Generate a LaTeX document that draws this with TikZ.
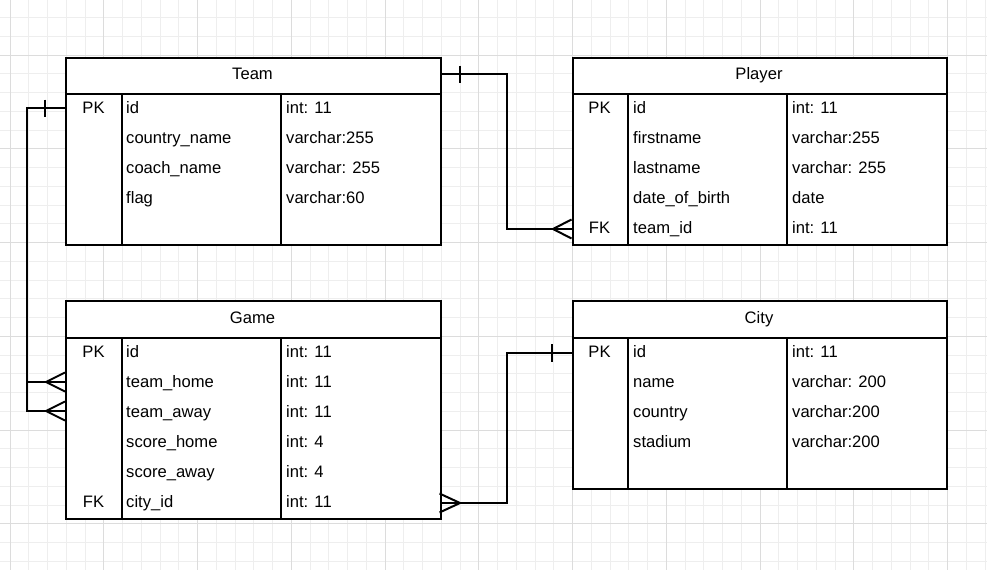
\documentclass[tikz,border=0pt]{standalone}
\usepackage{fontspec}
\setmainfont{Liberation Sans}
\definecolor{gridminor}{HTML}{EEEEEE}
\definecolor{gridmajor}{HTML}{DCDCDC}
\newcommand{\tabfont}{\fontsize{16.6}{19}\selectfont}
\tikzset{
  tbl/.style={draw=black, line width=2pt, fill=white, inner sep=0pt, rectangle},
  rule/.style={draw=black, line width=2pt},
  conn/.style={draw=black, line width=2pt},
  cell/.style={anchor=base west, inner sep=0pt, font=\tabfont},
  keycell/.style={anchor=base, inner sep=0pt, font=\tabfont},
  title/.style={anchor=base, inner sep=0pt, font=\tabfont},
}
\begin{document}
\begin{tikzpicture}[x=1pt,y=-1pt]
\useasboundingbox (0,0) rectangle (987,570);
\fill[white] (0,0) rectangle (987,570);
% grid
\foreach \k in {0,...,52} {\draw[gridminor, line width=1pt] ({10+18.75*\k},0) -- ({10+18.75*\k},570);}
\foreach \k in {-2,...,27} {\draw[gridminor, line width=1pt] (0,{55+18.75*\k}) -- (987,{55+18.75*\k});}
\foreach \k in {0,...,10} {\draw[gridmajor, line width=1pt] ({10+93.75*\k},0) -- ({10+93.75*\k},570);}
\foreach \k in {0,...,5} {\draw[gridmajor, line width=1pt] (0,{55+93.75*\k}) -- (987,{55+93.75*\k});}

% ---------- Team ----------
\node[tbl, minimum width=374.5pt, minimum height=187pt, anchor=north west] (team) at (65,57) {};
\draw[rule] (65,94) -- (439.5,94);
\draw[rule] (122,94) -- (122,244);
\draw[rule] (281,94) -- (281,244);
\node[title] (teamT) at (252.5,79.7) {Team};
\node[keycell] (teamK1) at (93.5,113.7) {PK};
\node[cell] (team1) at (126,113.7) {id};
\node[cell] (team2) at (126,143.7) {country\_name};
\node[cell] (team3) at (126,173.7) {coach\_name};
\node[cell] (team4) at (126,203.7) {flag};
\node[cell] (teamY1) at (286,113.7) {int: 11};
\node[cell] (teamY2) at (286,143.7) {varchar:255};
\node[cell] (teamY3) at (286,173.7) {varchar: 255};
\node[cell] (teamY4) at (286,203.7) {varchar:60};

% ---------- Player ----------
\node[tbl, minimum width=374.5pt, minimum height=187pt, anchor=north west] (player) at (571.5,57) {};
\draw[rule] (571.5,94) -- (946,94);
\draw[rule] (628,94) -- (628,244);
\draw[rule] (787,94) -- (787,244);
\node[title] (playerT) at (759,79.7) {Player};
\node[keycell] (playerK1) at (599.5,113.7) {PK};
\node[keycell] (playerK5) at (599.5,233.7) {FK};
\node[cell] (player1) at (633,113.7) {id};
\node[cell] (player2) at (633,143.7) {firstname};
\node[cell] (player3) at (633,173.7) {lastname};
\node[cell] (player4) at (633,203.7) {date\_of\_birth};
\node[cell] (player5) at (633,233.7) {team\_id};
\node[cell] (playerY1) at (792,113.7) {int: 11};
\node[cell] (playerY2) at (792,143.7) {varchar:255};
\node[cell] (playerY3) at (792,173.7) {varchar: 255};
\node[cell] (playerY4) at (792,203.7) {date};
\node[cell] (playerY5) at (792,233.7) {int: 11};

% ---------- Game ----------
\node[tbl, minimum width=374.5pt, minimum height=217.5pt, anchor=north west] (game) at (65,300) {};
\draw[rule] (65,338) -- (439.5,338);
\draw[rule] (122,338) -- (122,517.5);
\draw[rule] (281,338) -- (281,517.5);
\node[title] (gameT) at (252.5,323.7) {Game};
\node[keycell] (gameK1) at (93.5,357.7) {PK};
\node[keycell] (gameK6) at (93.5,507.7) {FK};
\node[cell] (game1) at (126,357.7) {id};
\node[cell] (game2) at (126,387.7) {team\_home};
\node[cell] (game3) at (126,417.7) {team\_away};
\node[cell] (game4) at (126,447.7) {score\_home};
\node[cell] (game5) at (126,477.7) {score\_away};
\node[cell] (game6) at (126,507.7) {city\_id};
\node[cell] (gameY1) at (286,357.7) {int: 11};
\node[cell] (gameY2) at (286,387.7) {int: 11};
\node[cell] (gameY3) at (286,417.7) {int: 11};
\node[cell] (gameY4) at (286,447.7) {int: 4};
\node[cell] (gameY5) at (286,477.7) {int: 4};
\node[cell] (gameY6) at (286,507.7) {int: 11};

% ---------- City ----------
\node[tbl, minimum width=374.5pt, minimum height=188pt, anchor=north west] (city) at (571.5,300) {};
\draw[rule] (571.5,338) -- (946,338);
\draw[rule] (628,338) -- (628,488);
\draw[rule] (787,338) -- (787,488);
\node[title] (cityT) at (759,323.7) {City};
\node[keycell] (cityK1) at (599.5,357.7) {PK};
\node[cell] (city1) at (633,357.7) {id};
\node[cell] (city2) at (633,387.7) {name};
\node[cell] (city3) at (633,417.7) {country};
\node[cell] (city4) at (633,447.7) {stadium};
\node[cell] (cityY1) at (792,357.7) {int: 11};
\node[cell] (cityY2) at (792,387.7) {varchar: 200};
\node[cell] (cityY3) at (792,417.7) {varchar:200};
\node[cell] (cityY4) at (792,447.7) {varchar:200};

% ---------- Connectors ----------
% Team -- Player
\coordinate (tp1) at (507,74);
\coordinate (tp2) at (507,229);
\draw[conn] (team.east |- tp1) -- (tp1) -- (tp2) -- (player.west |- tp2);
\draw[conn] (460,65.5) -- (460,83);
\draw[conn] (553,229) -- (571.5,219.5);
\draw[conn] (553,229) -- (571.5,238.5);

% Team -- Game
\coordinate (tg1) at (27,108);
\coordinate (tg2) at (27,382);
\coordinate (tg3) at (27,411);
\draw[conn] (team.west |- tg1) -- (tg1) -- (tg3) -- (game.west |- tg3);
\draw[conn] (tg2) -- (game.west |- tg2);
\draw[conn] (45,99.5) -- (45,117);
\draw[conn] (46,382) -- (65,372.5);
\draw[conn] (46,382) -- (65,391.5);
\draw[conn] (46,411) -- (65,401.5);
\draw[conn] (46,411) -- (65,420.5);

% Game -- City
\coordinate (gc1) at (507,503);
\coordinate (gc2) at (507,353);
\draw[conn] (game.east |- gc1) -- (gc1) -- (gc2) -- (city.west |- gc2);
\draw[conn] (460,503) -- (439.5,493.5);
\draw[conn] (460,503) -- (439.5,512.5);
\draw[conn] (552,344) -- (552,362);
\end{tikzpicture}
\end{document}
